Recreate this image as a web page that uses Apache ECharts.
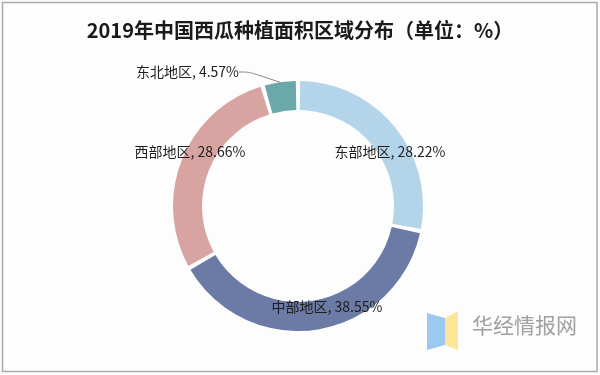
<!DOCTYPE html>
<html>
<head>
<meta charset="utf-8">
<script src="https://cdn.jsdelivr.net/npm/echarts@6/dist/echarts.min.js"></script>
<style>
html,body{margin:0;padding:0;background:#fdfdfe;}
#chart{width:600px;height:375px;}
</style>
</head>
<body>
<div id="chart"></div>
<script>
var titleText = '2019年中国西瓜种植面积区域分布（单位：%）';
var categories = ['东部地区', '中部地区', '西部地区', '东北地区'];
var values = [28.22, 38.55, 28.66, 4.57];
var colors = ['#b4d4e9', '#6b7ba5', '#d7a4a2', '#6ba8ab'];

var labelPos = [
  {x: 390, y: 152, align: 'center'},
  {x: 327, y: 307, align: 'center'},
  {x: 190, y: 152, align: 'center'},
  {x: 239, y: 72, align: 'right'}
];

var chart = echarts.init(document.getElementById('chart'));
var data = categories.map(function (c, i) {
  var item = {name: c, value: values[i], itemStyle: {color: colors[i]}};
  if (i === 3) {
    item.label = {position: 'outside'};
    item.labelLine = {show: true};
  }
  return item;
});

chart.setOption({
  backgroundColor: '#fdfdfe',
  animation: false,
  title: {
    text: titleText,
    left: 'center',
    top: 15,
    textStyle: {
      fontFamily: 'Noto Sans CJK SC',
      fontSize: 20,
      fontWeight: 'bold',
      color: '#1a1a1a'
    }
  },
  graphic: [
    {type: 'rect', shape: {x: 2.5, y: 2.5, width: 594.5, height: 369}, style: {fill: 'none', stroke: '#aaaaaa', lineWidth: 1.5}, silent: true},
    {type: 'polygon', shape: {points: [[427, 313], [445, 318], [445, 345], [427, 350]]}, style: {fill: '#9cc8f2'}, silent: true},
    {type: 'polygon', shape: {points: [[445, 318], [458, 311], [458, 350], [445, 345]]}, style: {fill: '#fbe69a'}, silent: true},
    {type: 'text', x: 472, y: 325, style: {text: '华经情报网', fontFamily: 'Noto Sans CJK SC', fontSize: 21, fill: '#a0a0a0', verticalAlign: 'middle'}, silent: true}
  ],
  series: [{
    type: 'pie',
    center: [298, 206],
    radius: [96, 125],
    startAngle: 90,
    clockwise: true,
    padAngle: 2,
    data: data,
    label: {
      show: true,
      position: 'inside',
      formatter: '{b}, {d}%',
      fontFamily: 'Noto Sans CJK SC',
      fontSize: 14,
      color: '#1e1e1e'
    },
    labelLine: {
      show: false,
      smooth: true,
      length: 10,
      length2: 10,
      lineStyle: {color: '#888888', width: 1}
    },
    labelLayout: function (p) {
      var lp = labelPos[p.dataIndex];
      return {x: lp.x, y: lp.y, align: lp.align, verticalAlign: 'middle'};
    }
  }]
});
</script>
</body>
</html>
